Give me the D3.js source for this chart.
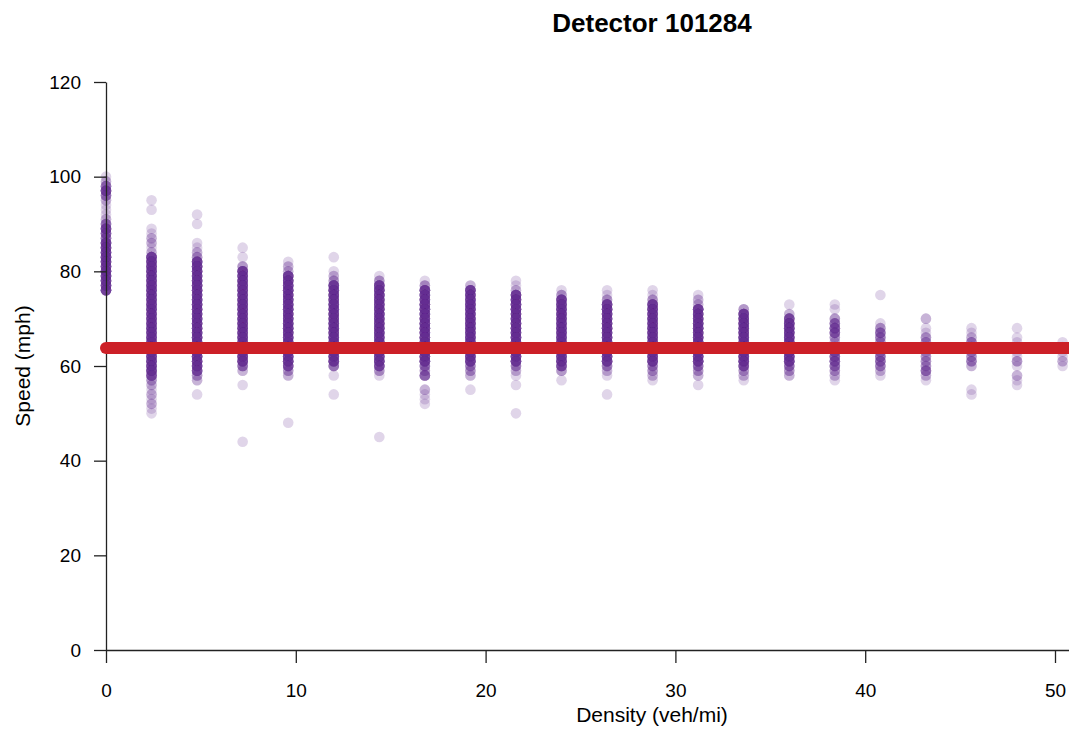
<!DOCTYPE html>
<html>
<head>
<meta charset="utf-8">
<script src="https://cdn.jsdelivr.net/npm/d3@7"></script>
<style>
  body { margin: 0; background: #fff; }
  text { font-family: "Liberation Sans", Arial, sans-serif; fill: #000; }
</style>
</head>
<body>
<div id="my_dataviz"></div>
<script>
// density columns (veh/mi)
var densities = [0, 2.4, 4.8, 7.2, 9.6, 12, 14.4, 16.8, 19.2, 21.6, 24,
                 26.4, 28.8, 31.2, 33.6, 36, 38.4, 40.8, 43.2, 45.6, 48, 50.4];

// [speed mph, number of observations] for each density column
var col00 = [[100,1],[99,2],[98,5],[97,9],[96,5],[95,2],[94,1],[93,1],[92,1],[91,2],[90,5],[89,9],[88,7],[87,5],
  [86,10],[85,10],[84,10],[83,10],[82,10],[81,10],[80,10],[79,10],[78,10],[77,10],[76,10]];
var col24 = [[95,1],[93,1],[89,1],[88,1],[87,2],[86,2],[85,1],[84,2],
  [83,10],[82,10],[81,10],[80,10],[79,10],[78,10],[77,10],[76,10],[75,10],[74,10],[73,10],[72,10],[71,10],[70,10],
  [69,10],[68,10],[67,10],[66,10],[65,10],[64,10],[63,10],[62,10],[61,10],[60,10],[59,10],[58,8],
  [57,3],[56,2],[55,1],[54,2],[53,1],[52,2],[51,1],[50,1]];
var col48 = [[92,1],[90,1],[86,1],[85,1],[84,2],[83,3],
  [82,10],[81,10],[80,10],[79,10],[78,10],[77,10],[76,10],[75,10],[74,10],[73,10],[72,10],[71,10],[70,10],
  [69,10],[68,10],[67,10],[66,10],[65,10],[64,10],[63,10],[62,10],[61,10],[60,10],[59,8],[58,3],[57,2],[54,1]];
var col72 = [[85,1],[83,1],[81,3],
  [80,10],[79,10],[78,10],[77,10],[76,10],[75,10],[74,10],[73,10],[72,10],[71,10],[70,10],
  [69,10],[68,10],[67,10],[66,10],[65,10],[64,10],[63,10],[62,10],[61,10],[60,5],[59,2],[56,1],[44,1]];
var col96 = [[82,1],[81,2],[80,2],
  [79,10],[78,10],[77,10],[76,10],[75,10],[74,10],[73,10],[72,10],[71,10],[70,10],
  [69,10],[68,10],[67,10],[66,10],[65,10],[64,10],[63,10],[62,10],[61,10],[60,8],[59,3],[58,2],[48,1]];
var col120 = [[83,1],[80,1],[79,2],[78,3],
  [77,10],[76,10],[75,10],[74,10],[73,10],[72,10],[71,10],[70,10],
  [69,10],[68,10],[67,10],[66,10],[65,10],[64,10],[63,10],[62,10],[61,10],[60,5],[58,1],[54,1]];
var col144 = [[79,1],[78,3],
  [77,10],[76,10],[75,10],[74,10],[73,10],[72,10],[71,10],[70,10],
  [69,10],[68,10],[67,10],[66,10],[65,10],[64,10],[63,10],[62,10],[61,10],[60,8],[59,3],[58,1],[45,1]];
var col168 = [[78,1],[77,3],
  [76,10],[75,10],[74,10],[73,10],[72,10],[71,10],[70,10],
  [69,10],[68,10],[67,10],[66,10],[65,10],[64,10],[63,10],[62,10],[61,10],[60,5],[59,3],[58,6],
  [55,2],[54,1],[53,1],[52,1]];
var col192 = [[77,2],
  [76,10],[75,10],[74,10],[73,10],[72,10],[71,10],[70,10],
  [69,10],[68,10],[67,10],[66,10],[65,10],[64,10],[63,10],[62,10],[61,10],[60,4],[59,3],[58,2],[55,1]];
var col216 = [[78,1],[77,1],[76,2],
  [75,10],[74,10],[73,10],[72,10],[71,10],[70,10],
  [69,10],[68,10],[67,10],[66,10],[65,10],[64,10],[63,10],[62,10],[61,10],[60,4],[59,2],[58,1],[56,1],[50,1]];
var col240 = [[76,1],[75,3],
  [74,10],[73,10],[72,10],[71,10],[70,10],
  [69,10],[68,10],[67,10],[66,10],[65,10],[64,10],[63,10],[62,10],[61,10],[60,8],[59,3],[57,1]];
var col264 = [[76,1],[75,1],[74,3],
  [73,10],[72,10],[71,10],[70,10],
  [69,10],[68,10],[67,10],[66,10],[65,10],[64,10],[63,10],[62,10],[61,10],[60,4],[59,2],[58,1],[54,1]];
var col288 = [[76,1],[75,1],[74,3],
  [73,10],[72,10],[71,10],[70,10],
  [69,10],[68,10],[67,10],[66,10],[65,10],[64,10],[63,10],[62,10],[61,10],[60,4],[59,3],[58,2],[57,1]];
var col312 = [[75,1],[74,2],[73,2],
  [72,10],[71,10],[70,10],
  [69,10],[68,10],[67,10],[66,10],[65,10],[64,10],[63,10],[62,10],[61,10],[60,5],[59,3],[58,2],[56,1]];
var col336 = [[72,3],[71,10],[70,10],
  [69,10],[68,10],[67,10],[66,10],[65,10],[64,10],[63,10],[62,10],[61,10],[60,8],[59,3],[58,2],[57,1]];
var col360 = [[73,1],[71,2],[70,8],
  [69,10],[68,10],[67,10],[66,10],[65,10],[64,10],[63,10],[62,10],[61,10],[60,5],[59,3],[58,2]];
var col384 = [[73,1],[72,1],[70,3],[69,5],[68,6],[67,6],[66,3],[65,2],[64,3],[63,5],[62,6],[61,6],
  [60,5],[59,3],[58,2],[57,1]];
var col408 = [[75,1],[69,1],[68,3],[67,5],[66,4],[65,3],[64,2],[63,3],[62,5],[61,5],[60,4],[59,2],[58,1]];
var col432 = [[70,2],[68,1],[67,1],[66,3],[65,3],[64,2],[63,2],[62,3],[61,3],[60,3],[59,5],[58,2],[57,1]];
var col456 = [[68,1],[67,1],[66,2],[65,4],[64,3],[63,3],[62,3],[61,4],[60,2],[55,1],[54,1]];
var col480 = [[68,1],[66,1],[65,1],[64,1],[63,1],[62,1],[61,3],[60,1],[58,2],[57,1],[56,1]];
var col504 = [[65,1],[64,1],[63,1],[62,1],[61,2],[60,1]];

var columns = [col00, col24, col48, col72, col96, col120, col144, col168, col192, col216, col240,
               col264, col288, col312, col336, col360, col384, col408, col432, col456, col480, col504];

// average speed line
var meanSpeed = 63.8;

var xTicks = [0, 10, 20, 30, 40, 50];
var yTicks = [0, 20, 40, 60, 80, 100, 120];

var width = 1069, height = 730;

var svg = d3.select("#my_dataviz")
  .append("svg")
    .attr("width", width)
    .attr("height", height);

var x = d3.scaleLinear().domain([0, 50]).range([106, 1055]);
var y = d3.scaleLinear().domain([0, 120]).range([650, 82]);

// flatten into one row per observation
var points = [];
columns.forEach(function(col, i) {
  col.forEach(function(d) {
    for (var k = 0; k < d[1]; k++) points.push({density: densities[i], speed: d[0]});
  });
});

svg.append("g")
  .selectAll("circle")
  .data(points)
  .enter()
  .append("circle")
    .attr("cx", function(d) { return x(d.density); })
    .attr("cy", function(d) { return y(d.speed); })
    .attr("r", 5.3)
    .style("fill", "#662d91")
    .style("fill-opacity", 0.2);

// Y axis
svg.append("g")
  .attr("transform", "translate(" + x(0) + ",0)")
  .call(d3.axisLeft(y).tickValues(yTicks).tickSize(12).tickSizeOuter(0).tickPadding(13));

// X axis, the line runs off the right edge like the original
var xAxisScale = x.copy().domain([0, x.invert(width + 5)]).range([106, width + 5]);
svg.append("g")
  .attr("transform", "translate(0," + y(0) + ")")
  .call(d3.axisBottom(xAxisScale).tickValues(xTicks).tickSize(13).tickSizeOuter(0).tickPadding(21));

svg.selectAll(".domain, .tick line")
  .attr("stroke", "#222")
  .attr("stroke-width", 1.3);
svg.selectAll(".tick text")
  .style("font-size", "19px")
  .style("fill", "#000");

// red mean speed line
svg.append("line")
  .attr("x1", x(0))
  .attr("x2", width + 20)
  .attr("y1", y(meanSpeed))
  .attr("y2", y(meanSpeed))
  .attr("stroke", "#cc2027")
  .attr("stroke-width", 12)
  .attr("stroke-linecap", "round");

// titles
svg.append("text")
  .attr("x", 652)
  .attr("y", 32)
  .attr("text-anchor", "middle")
  .style("font-size", "26px")
  .style("font-weight", "bold")
  .text("Detector 101284");

svg.append("text")
  .attr("x", 652)
  .attr("y", 722)
  .attr("text-anchor", "middle")
  .style("font-size", "21px")
  .text("Density (veh/mi)");

svg.append("text")
  .attr("transform", "rotate(-90)")
  .attr("x", -366)
  .attr("y", 30)
  .attr("text-anchor", "middle")
  .style("font-size", "21px")
  .text("Speed (mph)");
</script>
</body>
</html>
